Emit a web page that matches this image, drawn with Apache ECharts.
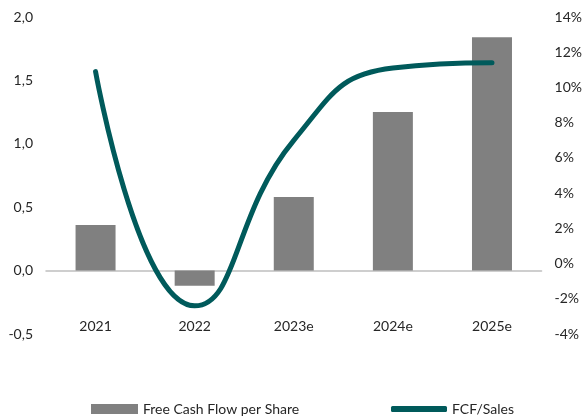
<!DOCTYPE html>
<html>
<head>
<meta charset="utf-8">
<script src="https://cdn.jsdelivr.net/npm/echarts@6/dist/echarts.min.js"></script>
<style>html,body{margin:0;padding:0;background:#fff}#c{width:585px;height:418px}</style>
</head>
<body>
<div id="c"></div>
<script>
var categories = ['2021', '2022', '2023e', '2024e', '2025e'];
var fcfPerShare = [0.36, -0.12, 0.58, 1.25, 1.84];
var fcfSales = [10.9, -2.4, 7.0, 11.1, 11.4];
var leftTicks = { min: -0.5, max: 2.0, interval: 0.5 };
var rightTicks = { min: -4, max: 14, interval: 2 };

var font = 'Lato, "Open Sans", sans-serif';
var txt = '#262626';
var chart = echarts.init(document.getElementById('c'));
chart.setOption({
  animation: false,
  grid: { left: 46, right: 43, top: 17, bottom: 84 },
  legend: [
    { left: 86, top: 397, data: ['Free Cash Flow per Share'], icon: 'rect', itemWidth: 47, itemHeight: 10,
      textStyle: { fontFamily: font, fontSize: 14, color: txt } },
    { left: 386, top: 397, data: ['FCF/Sales'], icon: 'roundRect', itemWidth: 56, itemHeight: 6,
      textStyle: { fontFamily: font, fontSize: 14, color: txt } }
  ],
  xAxis: [
    { type: 'category', data: categories, axisLine: { onZero: true, lineStyle: { color: '#bfbfbf', width: 1.5 } },
      axisTick: { show: false }, axisLabel: { show: false } },
    { type: 'category', data: categories, position: 'bottom', offset: -23, axisLine: { show: false, onZero: false },
      axisTick: { show: false }, axisLabel: { fontFamily: font, fontSize: 14, color: txt, margin: 8 } }
  ],
  yAxis: [
    { type: 'value', min: leftTicks.min, max: leftTicks.max, interval: leftTicks.interval,
      splitLine: { show: false }, axisLine: { show: false }, axisTick: { show: false },
      axisLabel: { fontFamily: font, fontSize: 14, color: txt, margin: 13,
        formatter: function (v) { return v.toFixed(1).replace('.', ','); } } },
    { type: 'value', min: rightTicks.min, max: rightTicks.max, interval: rightTicks.interval,
      splitLine: { show: false }, axisLine: { show: false }, axisTick: { show: false },
      axisLabel: { fontFamily: font, fontSize: 14, color: txt, margin: 13,
        formatter: function (v) { return v + '%'; } } }
  ],
  series: [
    { name: 'Free Cash Flow per Share', type: 'bar', data: fcfPerShare, barWidth: 40,
      itemStyle: { color: '#808080' }, xAxisIndex: 0, yAxisIndex: 0 },
    { name: 'FCF/Sales', type: 'line', data: fcfSales, smooth: 0.5, showSymbol: false, symbol: 'none',
      lineStyle: { color: '#005a5b', width: 5, cap: 'round' }, itemStyle: { color: '#005a5b' },
      xAxisIndex: 0, yAxisIndex: 1 }
  ]
});
</script>
</body>
</html>
